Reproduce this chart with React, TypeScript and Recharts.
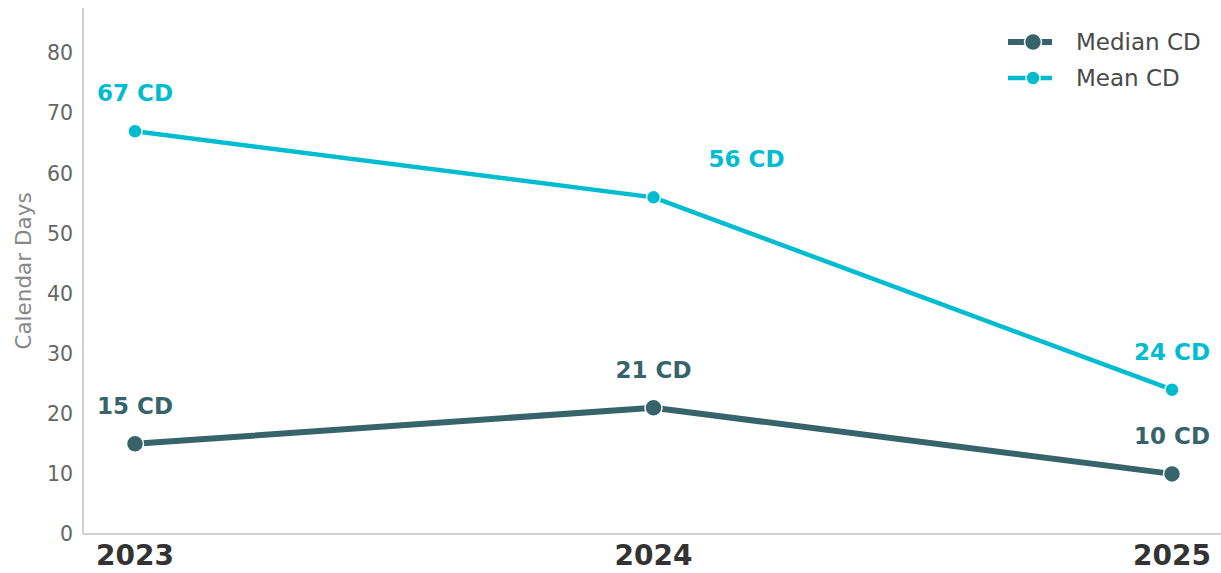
import React from 'react';
import { LineChart, Line, XAxis, YAxis, LabelList } from 'recharts';

const years = ['2023', '2024', '2025'];
const medianCD = [15, 21, 10];
const meanCD = [67, 56, 24];
const yTicks = [0, 10, 20, 30, 40, 50, 60, 70, 80];

const MEDIAN = '#37636A';
const MEAN = '#00BCD0';
const FONT = 'DejaVu Sans';

const data = years.map((y, i) => ({ year: y, median: medianCD[i], mean: meanCD[i] }));

// label nudges per point (px)
const meanLabelDx = [0, 93, 0];

const makeLabel = (color: string, dxs: number[]) => (props: any) => {
    const { x, y, index, value } = props;
    return (
        <text
            x={x + (dxs[index] || 0)}
            y={y - 38}
            textAnchor="middle"
            dominantBaseline="central"
            fill={color}
            fontSize={23}
            fontWeight="bold"
            fontFamily={FONT}
        >
            {`${value} CD`}
        </text>
    );
};

const LegendBox = () => (
    <div style={{ position: 'absolute', left: 1006, top: 24, fontFamily: FONT, fontSize: 23, color: '#4a4a4a' }}>
        {[
            { name: 'Median CD', color: MEDIAN, w: 6, r: 8.5 },
            { name: 'Mean CD', color: MEAN, w: 4.5, r: 7 },
        ].map((s) => (
            <div key={s.name} style={{ display: 'flex', alignItems: 'center', height: 36 }}>
                <svg width={60} height={24} style={{ marginRight: 10 }}>
                    <line x1={2} x2={46} y1={12} y2={12} stroke={s.color} strokeWidth={s.w} />
                    <circle cx={27} cy={12} r={s.r} fill={s.color} stroke="#fff" strokeWidth={1.5} />
                </svg>
                <span>{s.name}</span>
            </div>
        ))}
    </div>
);

export default function App() {
    return (
        <div style={{ position: 'absolute', left: 0, top: 0, width: 1221, height: 573, background: '#fff' }}>
            <LineChart width={1221} height={573} data={data} margin={{ top: 8, right: 0, left: 0, bottom: 0 }}>
                <XAxis
                    dataKey="year"
                    padding={{ left: 52, right: 49 }}
                    axisLine={{ stroke: '#d0d0d0', strokeWidth: 2 }}
                    tickLine={false}
                    height={39}
                    tick={{ fontSize: 28, fontWeight: 'bold', fill: '#333333', fontFamily: FONT }}
                    dy={3}
                />
                <YAxis
                    domain={[0, 87.5]}
                    ticks={yTicks}
                    width={83}
                    axisLine={{ stroke: '#d0d0d0', strokeWidth: 2 }}
                    tickLine={false}
                    tick={{ fontSize: 20.5, fill: '#666666', fontFamily: FONT }}
                    dx={-2}
                    label={{
                        value: 'Calendar Days',
                        angle: -90,
                        position: 'insideLeft',
                        dx: 18,
                        style: { fontSize: 21.5, fill: '#888888', fontFamily: FONT, textAnchor: 'middle' },
                    }}
                />
                <Line
                    dataKey="median"
                    stroke={MEDIAN}
                    strokeWidth={6}
                    dot={{ r: 8.5, fill: MEDIAN, stroke: '#fff', strokeWidth: 1.5 }}
                    activeDot={false}
                    isAnimationActive={false}
                >
                    <LabelList dataKey="median" content={makeLabel(MEDIAN, [0, 0, 0])} />
                </Line>
                <Line
                    dataKey="mean"
                    stroke={MEAN}
                    strokeWidth={4.5}
                    dot={{ r: 7, fill: MEAN, stroke: '#fff', strokeWidth: 1.5 }}
                    activeDot={false}
                    isAnimationActive={false}
                >
                    <LabelList dataKey="mean" content={makeLabel(MEAN, meanLabelDx)} />
                </Line>
            </LineChart>
            <LegendBox />
        </div>
    );
}
